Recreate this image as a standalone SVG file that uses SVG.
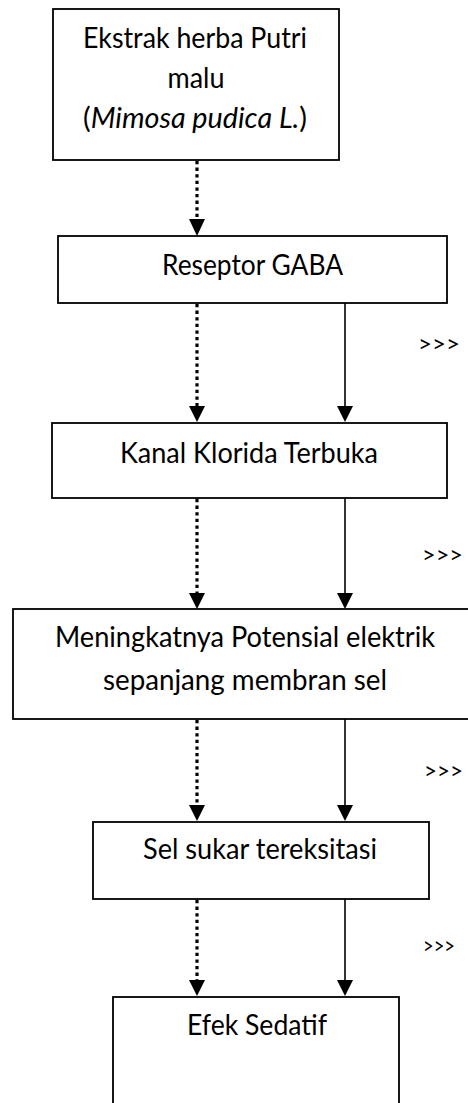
<svg xmlns="http://www.w3.org/2000/svg" width="468" height="1103" viewBox="0 0 468 1103">
<style>
.box{fill:#fff;stroke:#000;stroke-width:1.8}
.t{font-family:Lato,"Open Sans","Liberation Sans",sans-serif;font-size:28px;fill:#000;text-anchor:middle}
.g{font-family:Lato,"Open Sans","Liberation Sans",sans-serif;font-size:24px;fill:#000}
.dot{stroke:#000;stroke-width:3.2;stroke-dasharray:3.3 3.3;fill:none}
.sol{stroke:#000;stroke-width:1.6;fill:none}
</style>
<rect width="468" height="1103" fill="#fff"/>
<g id="n1">
<rect class="box" x="53" y="9" width="286" height="151"/>
<text class="t" x="195" y="48" textLength="224" lengthAdjust="spacingAndGlyphs">Ekstrak herba Putri</text>
<text class="t" x="196" y="88" textLength="57" lengthAdjust="spacingAndGlyphs">malu</text>
<text class="t" x="195" y="128" textLength="224" lengthAdjust="spacingAndGlyphs">(<tspan font-style="italic">Mimosa pudica L.</tspan>)</text>
</g>
<g id="n2">
<rect class="box" x="58" y="236" width="389" height="67"/>
<text class="t" x="252.5" y="275" textLength="181" lengthAdjust="spacingAndGlyphs">Reseptor GABA</text>
</g>
<g id="n3">
<rect class="box" x="52" y="423" width="395" height="75"/>
<text class="t" x="249" y="463" textLength="258" lengthAdjust="spacingAndGlyphs">Kanal Klorida Terbuka</text>
</g>
<g id="n4">
<rect class="box" x="13" y="609" width="480" height="110"/>
<text class="t" x="245" y="647" textLength="380" lengthAdjust="spacingAndGlyphs">Meningkatnya Potensial elektrik</text>
<text class="t" x="245" y="690" textLength="284" lengthAdjust="spacingAndGlyphs">sepanjang membran sel</text>
</g>
<g id="n5">
<rect class="box" x="93" y="822" width="336" height="77"/>
<text class="t" x="260" y="859" textLength="234" lengthAdjust="spacingAndGlyphs">Sel sukar tereksitasi</text>
</g>
<g id="n6">
<rect class="box" x="113" y="997" width="286" height="120"/>
<text class="t" x="257" y="1035" textLength="140" lengthAdjust="spacingAndGlyphs">Efek Sedatif</text>
</g>
<g id="labels">
<text class="g" x="418" y="352" textLength="42" lengthAdjust="spacingAndGlyphs">&gt;&gt;&gt;</text>
<text class="g" x="422" y="563" textLength="41" lengthAdjust="spacingAndGlyphs">&gt;&gt;&gt;</text>
<text class="g" x="424" y="779" textLength="39" lengthAdjust="spacingAndGlyphs" font-size="20">&gt;&gt;&gt;</text>
<text class="g" x="423" y="954" textLength="32" lengthAdjust="spacingAndGlyphs">&gt;&gt;&gt;</text>
</g>
<g id="connectors">
<line class="dot" x1="197" y1="161" x2="197" y2="219"/>
<path d="M189,219 L205,219 L197,236 Z"/>
<line class="dot" x1="197" y1="304" x2="197" y2="406"/>
<path d="M189,406 L205,406 L197,422 Z"/>
<line class="sol" x1="345" y1="303" x2="345" y2="408"/>
<path d="M337,406 L353,406 L345,422 Z"/>
<line class="dot" x1="197" y1="499" x2="197" y2="593"/>
<path d="M189,593 L205,593 L197,609 Z"/>
<line class="sol" x1="345" y1="498" x2="345" y2="595"/>
<path d="M337,593 L353,593 L345,609 Z"/>
<line class="dot" x1="197" y1="720" x2="197" y2="805"/>
<path d="M189,805 L205,805 L197,821 Z"/>
<line class="sol" x1="345" y1="719" x2="345" y2="807"/>
<path d="M337,805 L353,805 L345,821 Z"/>
<line class="dot" x1="197" y1="900" x2="197" y2="980"/>
<path d="M189,980 L205,980 L197,996 Z"/>
<line class="sol" x1="345" y1="899" x2="345" y2="982"/>
<path d="M337,980 L353,980 L345,996 Z"/>
</g>
</svg>
